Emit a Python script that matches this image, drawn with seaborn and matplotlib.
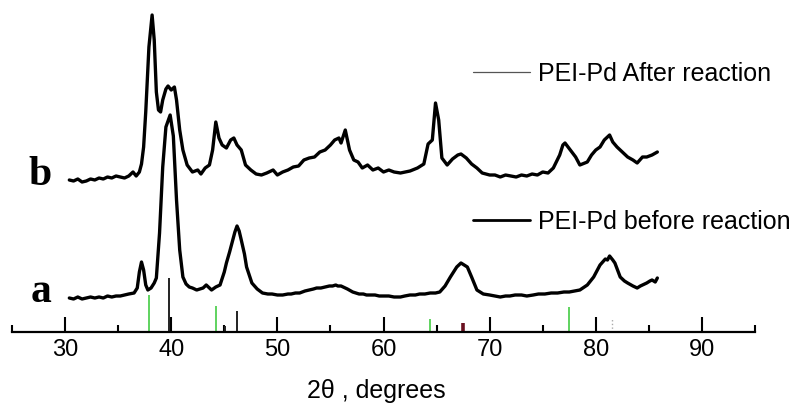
import numpy as np
import pandas as pd
import matplotlib
matplotlib.use("Agg")
import matplotlib.pyplot as plt
from matplotlib.lines import Line2D
from matplotlib import font_manager
import seaborn as sns

# --- XRD pattern: PEI-Pd before reaction (a) ---
two_theta_a = [30.4, 30.8, 31.2, 31.6, 32.0, 32.4, 32.8, 33.2, 33.6, 34.0, 34.4, 34.8,
               35.2, 35.6, 36.0, 36.5, 36.8, 37.0, 37.2, 37.4, 37.6, 37.8, 38.1, 38.4,
               38.6, 38.9, 39.2, 39.5, 39.9, 40.2, 40.5, 40.8, 41.1, 41.4, 41.7, 42.0,
               42.4, 42.7, 43.0, 43.3, 43.6, 43.8, 44.2, 44.6, 45.0, 45.2, 45.5, 45.8,
               46.0, 46.2, 46.4, 46.6, 46.9, 47.1, 47.6, 48.1, 48.6, 49.1, 49.5, 50.0,
               50.5, 51.0, 51.3, 51.7, 52.1, 52.6, 53.0, 53.4, 53.7, 54.1, 54.5, 54.9,
               55.2, 55.5, 55.7, 56.0, 56.2, 56.6, 57.1, 57.7, 58.1, 58.4, 58.8, 59.2,
               59.6, 60.0, 60.5, 61.0, 61.6, 62.0, 62.5, 63.0, 63.4, 63.9, 64.4, 64.9,
               65.3, 65.8, 66.3, 66.9, 67.3, 67.6, 67.9, 68.3, 68.8, 69.4, 70.0, 70.5,
               71.0, 71.5, 71.9, 72.4, 73.0, 73.5, 74.1, 74.6, 75.2, 75.8, 76.4, 77.0,
               77.5, 78.0, 78.5, 79.2, 79.8, 80.4, 80.9, 81.1, 81.3, 81.6, 81.8, 82.3,
               82.7, 83.0, 83.5, 83.9, 84.2, 84.4, 84.8, 85.1, 85.3, 85.6, 85.8]
intensity_a = [34, 33, 35, 33, 34, 35, 34, 35, 34, 36, 35, 36,
               36, 37, 38, 39, 44, 60, 70, 62, 47, 42, 44, 49,
               54, 99, 165, 205, 217, 196, 132, 82, 55, 48, 45, 44,
               42, 43, 44, 47, 44, 42, 45, 47, 60, 69, 80, 92,
               100, 106, 101, 92, 78, 65, 49, 43, 39, 38, 38, 37,
               37, 38, 38, 39, 39, 41, 42, 43, 44, 44, 45, 46,
               46, 47, 46, 46, 45, 43, 40, 38, 38, 37, 37, 37,
               36, 36, 36, 35, 35, 36, 37, 37, 38, 38, 39, 39,
               40, 46, 55, 65, 69, 67, 65, 55, 42, 38, 37, 36,
               35, 36, 36, 37, 37, 36, 37, 38, 38, 39, 39, 40,
               40, 41, 42, 47, 55, 67, 73, 72, 76, 72, 69, 55,
               51, 49, 46, 44, 46, 47, 49, 51, 52, 50, 54]

# --- XRD pattern: PEI-Pd after reaction (b), stacked above (a) ---
two_theta_b = [30.4, 30.8, 31.2, 31.6, 32.0, 32.4, 32.8, 33.2, 33.6, 34.0, 34.4, 34.8,
               35.2, 35.6, 36.0, 36.4, 36.7, 37.0, 37.2, 37.4, 37.6, 37.9, 38.2, 38.4,
               38.6, 38.8, 39.0, 39.2, 39.5, 39.7, 40.0, 40.3, 40.5, 40.8, 41.1, 41.5,
               42.0, 42.5, 42.8, 43.2, 43.6, 43.9, 44.2, 44.5, 44.8, 45.2, 45.6, 45.9,
               46.2, 46.6, 47.0, 47.5, 48.0, 48.5, 49.0, 49.6, 50.0, 50.5, 51.0, 51.5,
               52.0, 52.5, 53.0, 53.5, 54.0, 54.5, 55.0, 55.4, 55.8, 56.0, 56.4, 56.8,
               57.2, 57.6, 58.0, 58.5, 59.0, 59.5, 60.0, 60.5, 61.0, 61.6, 62.5, 63.2,
               63.8, 64.2, 64.6, 64.9, 65.2, 65.5, 66.0, 66.5, 67.0, 67.3, 67.8, 68.3,
               68.8, 69.3, 70.0, 70.5, 71.0, 71.5, 72.0, 72.5, 73.0, 73.5, 74.0, 74.5,
               75.0, 75.5, 76.0, 76.6, 76.9, 77.1, 77.6, 78.1, 78.5, 79.2, 79.6, 80.0,
               80.4, 80.8, 81.3, 81.6, 82.0, 82.5, 83.0, 83.5, 83.9, 84.4, 84.8, 85.3,
               85.8]
intensity_b = [152, 151, 153, 150, 151, 153, 152, 154, 153, 155, 154, 156,
               155, 154, 156, 160, 156, 160, 168, 185, 220, 285, 317, 292,
               240, 222, 220, 232, 243, 246, 242, 245, 232, 202, 182, 167,
               160, 162, 158, 164, 167, 182, 210, 194, 187, 184, 192, 194,
               187, 182, 167, 162, 158, 157, 159, 162, 157, 160, 162, 165,
               166, 172, 174, 175, 180, 182, 187, 192, 194, 189, 202, 182,
               172, 170, 164, 167, 162, 164, 160, 162, 160, 159, 161, 164,
               168, 188, 192, 229, 212, 174, 167, 173, 177, 178, 174, 168,
               164, 159, 157, 157, 155, 157, 156, 155, 157, 156, 158, 157,
               160, 159, 164, 177, 187, 189, 182, 175, 167, 170, 177, 182,
               185, 192, 197, 190, 185, 180, 175, 172, 169, 175, 175, 177,
               180]

# --- Reference pattern lines ---
green_pos = [37.9, 44.2, 64.4, 77.5]
green_int = [37, 26, 13, 25]
black_pos = [39.8, 45.1, 46.2]
black_int = [54, 6, 21]
red_pos = [67.5]
red_int = [9]
grey_pos = [81.5]
grey_int = [14]

major_ticks = [30, 40, 50, 60, 70, 80, 90]
minor_ticks = [25, 35, 45, 55, 65, 75, 85, 95]

legend_after = "PEI-Pd After reaction"
legend_before = "PEI-Pd before reaction"
x_label = "2θ , degrees"

sns.set_theme(style="white", rc={"text.color": "black", "xtick.color": "black",
                                 "axes.labelcolor": "black"})
plt.rcParams["font.family"] = ["Liberation Sans", "DejaVu Sans"]

# narrow face for the tick numbers when it is available
installed = {f.name for f in font_manager.fontManager.ttflist}
tick_family = "Liberation Sans Narrow" if "Liberation Sans Narrow" in installed else "Liberation Sans"
tick_size = 19 if tick_family == "Liberation Sans Narrow" else 17

W, H = 797, 408
fig = plt.figure(figsize=(W / 100, H / 100), dpi=100)
ax = fig.add_axes([12 / W, 76 / H, 743 / W, 332 / H])
ax.set_xlim(25, 95)
ax.set_ylim(0, 332)

df_a = pd.DataFrame({"two_theta": two_theta_a, "intensity": intensity_a})
df_b = pd.DataFrame({"two_theta": two_theta_b, "intensity": intensity_b})

# reference sticks
ax.vlines(green_pos, 0, green_int, color="#5fd35f", lw=1.4, zorder=1)
ax.vlines(black_pos, 0, black_int, color="#222222", lw=1.4, zorder=1)
ax.vlines(red_pos, 0, red_int, color="#6a1020", lw=2.6, zorder=1)
ax.vlines(grey_pos, 0, grey_int, color="#aaaaaa", lw=1.0, ls=":", zorder=1)

sns.lineplot(data=df_a, x="two_theta", y="intensity", color="black", lw=2.4,
             ax=ax, zorder=3, sort=False)
sns.lineplot(data=df_b, x="two_theta", y="intensity", color="black", lw=2.4,
             ax=ax, zorder=3, sort=False)

# axes styling: only the bottom spine with inward ticks
for side in ["left", "top", "right"]:
    ax.spines[side].set_visible(False)
ax.spines["bottom"].set_linewidth(1.6)
ax.spines["bottom"].set_color("black")
ax.set_yticks([])
ax.set_ylabel("")
ax.set_xlabel("")
ax.set_xticks(major_ticks)
ax.set_xticks(minor_ticks, minor=True)
ax.tick_params(axis="x", which="major", direction="in", length=11, width=1.5,
               color="black", labelcolor="black", pad=5, labelsize=tick_size,
               labelfontfamily=tick_family, bottom=True)
ax.tick_params(axis="x", which="minor", direction="in", length=5, width=1.5,
               color="black", bottom=True)

# axis title
fig.text(376 / W, 1 - 398 / H, x_label, ha="center", va="baseline", fontsize=18,
         color="black")

# sample labels
serif = ["Liberation Serif", "DejaVu Serif"]
fig.text(40 / W, 1 - 185 / H, "b", ha="center", va="baseline", fontsize=30,
         fontweight="bold", family=serif, color="black")
fig.text(41 / W, 1 - 302 / H, "a", ha="center", va="baseline", fontsize=30,
         fontweight="bold", family=serif, color="black")

# legends
h_after = [Line2D([], [], color="#555555", lw=0.9)]
h_before = [Line2D([], [], color="black", lw=2.0)]
leg1 = ax.legend(h_after, [legend_after], loc="center left",
                 bbox_to_anchor=(473 / W, 1 - 74 / H), bbox_transform=fig.transFigure,
                 frameon=False, fontsize=18, handlelength=2.3, handletextpad=0.3,
                 borderpad=0, borderaxespad=0, labelcolor="black")
ax.add_artist(leg1)
ax.legend(h_before, [legend_before], loc="center left",
          bbox_to_anchor=(473 / W, 1 - 222 / H), bbox_transform=fig.transFigure,
          frameon=False, fontsize=18, handlelength=2.3, handletextpad=0.3,
          borderpad=0, borderaxespad=0, labelcolor="black")

fig.savefig("out.png", dpi=100, facecolor="white")
